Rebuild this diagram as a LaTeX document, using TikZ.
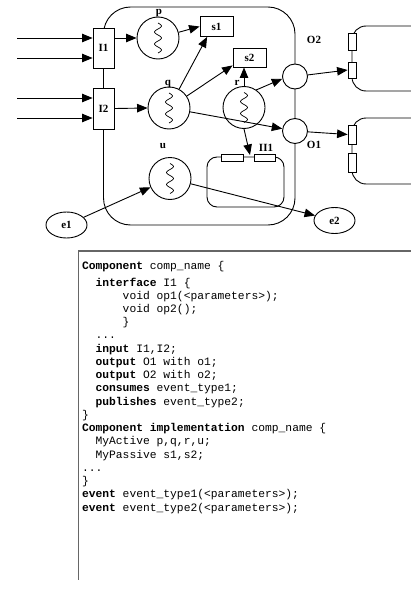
\documentclass[tikz,border=0pt]{standalone}
\usepackage{fontspec}
\setmainfont{Liberation Serif}
\setmonofont{Liberation Mono}
\usetikzlibrary{arrows.meta,shapes.geometric}

% one line of the component listing, set on its baseline
\newcommand\codeln[3]{\node[codeline] (#1) at (81.6,#2) {#3};}
\newcommand\kw[1]{\textbf{#1}}

\begin{document}
\begin{tikzpicture}[x=1pt,y=-1pt,line width=0.9pt,
  >={Triangle[length=10.5pt,width=8.5pt]},
  lbl/.style={font=\fontsize{11}{13}\selectfont\bfseries,inner sep=0pt},
  port/.style={draw,fill=white,minimum width=21pt,minimum height=40pt,inner sep=0pt,
    font=\fontsize{11}{13}\selectfont\bfseries},
  active/.style={draw,fill=white,circle,minimum size=42pt,inner sep=0pt},
  passive/.style={draw,fill=white,minimum width=33pt,minimum height=20pt,inner sep=0pt,
    font=\fontsize{11}{13}\selectfont\bfseries},
  outport/.style={draw,fill=white,circle,minimum size=25pt,inner sep=0pt},
  evt/.style={draw,fill=white,ellipse,minimum width=41pt,minimum height=26pt,inner sep=0pt,
    font=\fontsize{11}{13}\selectfont\bfseries},
  plug/.style={draw,fill=white,inner sep=0pt,line width=0.8pt},
  squiggle/.style={line width=0.7pt},
  codeline/.style={anchor=base west,inner sep=0pt,
    font=\fontsize{11.3}{13.24}\selectfont\ttfamily},
]
\useasboundingbox (0,0) rectangle (411,594);

% component outline
\draw[rounded corners=27pt] (103.5,7) rectangle (295,225);

% connected components on the right
\draw[rounded corners=14pt] (412,26) -- (352,26) -- (352,91) -- (412,91);
\draw[rounded corners=14pt] (412,118) -- (352,118) -- (352,184) -- (412,184);
\node[plug,minimum width=8pt,minimum height=17pt] (ra1) at (352,41.5) {};
\node[plug,minimum width=8pt,minimum height=16pt] (ra2) at (352,70) {};
\node[plug,minimum width=8pt,minimum height=19pt] (rb1) at (352,134.5) {};
\node[plug,minimum width=8pt,minimum height=19pt] (rb2) at (352,162.5) {};

% nested component II1
\draw[rounded corners=10pt] (207,157) rectangle (284,207);
\node[plug,minimum width=22pt,minimum height=7pt] (ia) at (232,157.5) {};
\node[plug,minimum width=21pt,minimum height=7pt] (ib) at (264.5,157.5) {};
\node[lbl] (lII) at (266,148) {II1};
\coordinate (iin) at (250,155);

% ports
\node[port] (I1) at (103.5,48) {I1};
\node[port,minimum height=41pt] (I2) at (103.5,108.5) {I2};
\node[outport] (O2) at (295,76.5) {};
\node[outport] (O1) at (295,131) {};
\node[lbl] (lO2) at (314,40) {O2};
\node[lbl] (lO1) at (314,145) {O1};

% active and passive objects
\node[active] (p) at (158,38) {};
\node[active] (q) at (169,108) {};
\node[active] (r) at (244,107.5) {};
\node[active] (u) at (170,178.5) {};
\foreach \n in {p,q,r,u}{
  \begin{scope}[shift={(\n.center)}]
    \draw[squiggle] plot[smooth,domain=-15:15,samples=41] ({3.5*sin(30*(\x+15))},\x);
  \end{scope}
}
\node[lbl] (lp) at (159,13) {p};
\node[lbl] (lq) at (168,84) {q};
\node[lbl] (lr) at (237,83) {r};
\node[lbl] (lu) at (163,146) {u};
\node[passive] (s1) at (216.5,26.5) {s1};
\node[passive,minimum height=19pt] (s2) at (249.5,57.5) {s2};

% events
\node[evt] (e1) at (66.5,225) {e1};
\node[evt] (e2) at (334.5,220.5) {e2};

% incoming calls
\coordinate (a1) at (17,38);
\coordinate (a2) at (17,58);
\coordinate (a3) at (17,98);
\coordinate (a4) at (17,118);
\draw[->] (a1) -- (a1 -| I1.west);
\draw[->] (a2) -- (a2 -| I1.west);
\draw[->] (a3) -- (a3 -| I2.west);
\draw[->] (a4) -- (a4 -| I2.west);

% internal wiring
\draw (I1.south) -- (I2.north);
\draw[->] (p -| I1.east) -- (p.west);
\draw[->] (I2.east) -- (q.west);
\draw[->] (p) -- (s1.west);
\draw[->] (q) -- (s1.228);
\draw[->] (q) -- (s2.205);
\draw[->] (q) -- (O1);
\draw[->] (r.north) -- (r.north |- s2.south);
\draw[->] (r.55) -- (O2.190);
\draw[->] (r.south) -- (iin);
\draw[->] (O2) -- (ra2.west);
\draw[->] (O1) -- (rb1.west);
\draw[->] (e1) -- (u);
\draw[->] (u) -- (e2);

% listing frame
\draw[black!60,line width=2pt] (78,251) -- (412,251);
\draw[black!60,line width=0.8pt] (78,251) -- (78,580);

% listing
\codeln{c1}{269}{\kw{Component} comp\_name \{}
\codeln{c2}{286}{\phantom{xx}\kw{interface} I1 \{}
\codeln{c3}{299.24}{\phantom{xxxxxx}void op1(<parameters>);}
\codeln{c4}{312.48}{\phantom{xxxxxx}void op2();}
\codeln{c5}{325.72}{\phantom{xxxxxx}\}}
\codeln{c6}{338.96}{\phantom{xx}...}
\codeln{c7}{352.2}{\phantom{xx}\kw{input} I1,I2;}
\codeln{c8}{365.44}{\phantom{xx}\kw{output} O1 with o1;}
\codeln{c9}{378.68}{\phantom{xx}\kw{output} O2 with o2;}
\codeln{c10}{391.92}{\phantom{xx}\kw{consumes} event\_type1;}
\codeln{c11}{405.16}{\phantom{xx}\kw{publishes} event\_type2;}
\codeln{c12}{418.4}{\}}
\codeln{c13}{431.64}{\kw{Component implementation} comp\_name \{}
\codeln{c14}{444.88}{\phantom{xx}MyActive p,q,r,u;}
\codeln{c15}{458.12}{\phantom{xx}MyPassive s1,s2;}
\codeln{c16}{471.36}{...}
\codeln{c17}{484.6}{\}}
\codeln{c18}{497.84}{\kw{event} event\_type1(<parameters>);}
\codeln{c19}{511.08}{\kw{event} event\_type2(<parameters>);}
\end{tikzpicture}
\end{document}
